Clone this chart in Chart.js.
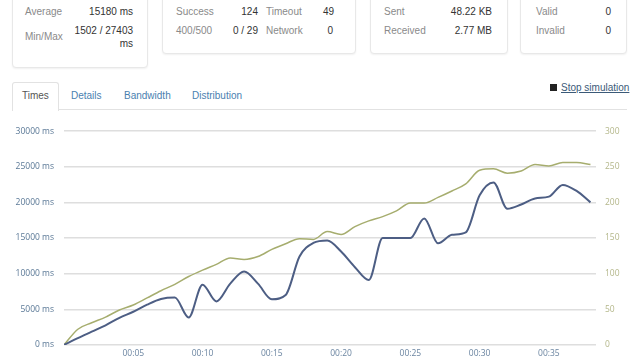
<!DOCTYPE html>
<html>
<head>
<meta charset="utf-8">
<script src="https://cdn.jsdelivr.net/npm/chart.js@4/dist/chart.umd.min.js"></script>
<style>
    body { margin: 0; width: 640px; height: 360px; overflow: hidden; background: #fff; font-family: "Liberation Sans", Arial, sans-serif; font-size: 10px; position: relative; }
    .panel { position: absolute; top: -10px; border: 1px solid #e8e8e8; border-radius: 4px; box-shadow: 0 1px 2px rgba(0,0,0,0.06); background: #fff; }
    .lbl { position: absolute; color: #8a8a8a; line-height: 12px; }
    .val { position: absolute; color: #333; line-height: 12px; text-align: right; }
    .tab { position: absolute; top: 90px; color: #4a7fb0; line-height: 12px; font-size: 10px; }
    #activeTab { position: absolute; left: 12px; top: 82px; width: 45px; height: 28px; border: 1px solid #e2e2e2; border-bottom: none; border-radius: 3px 3px 0 0; background: #fff; }
    #tabLine { position: absolute; left: 58px; top: 109px; width: 569px; height: 1px; background: #e2e2e2; }
    #stop { position: absolute; left: 550px; top: 82px; color: #444; font-size: 10px; line-height: 12px; }
    #stop span.sq { display: inline-block; width: 7px; height: 7px; background: #222; margin-right: 4px; vertical-align: 0px; }
    #stop span.t { text-decoration: underline; color: #3b5a78; }
    #chartBox { position: absolute; left: 0; top: 116px; width: 640px; height: 244px; }
</style>
</head>
<body>
<div class="panel" style="left:12px; width:134px; height:76px;"></div>
<div class="lbl" style="left:25px; top:6px;">Average</div>
<div class="val" style="left:60px; width:73px; top:6px;">15180 ms</div>
<div class="lbl" style="left:25px; top:31px;">Min/Max</div>
<div class="val" style="left:60px; width:73px; top:25px;">1502 / 27403</div>
<div class="val" style="left:60px; width:73px; top:38px;">ms</div>

<div class="panel" style="left:162px; width:192px; height:62px;"></div>
<div class="lbl" style="left:176px; top:6px;">Success</div>
<div class="val" style="left:220px; width:38px; top:6px;">124</div>
<div class="lbl" style="left:266px; top:6px;">Timeout</div>
<div class="val" style="left:300px; width:34px; top:6px;">49</div>
<div class="lbl" style="left:176px; top:25px;">400/500</div>
<div class="val" style="left:220px; width:38px; top:25px;">0 / 29</div>
<div class="lbl" style="left:266px; top:25px;">Network</div>
<div class="val" style="left:300px; width:33px; top:25px;">0</div>

<div class="panel" style="left:370px; width:136px; height:62px;"></div>
<div class="lbl" style="left:384px; top:6px;">Sent</div>
<div class="val" style="left:430px; width:62px; top:6px;">48.22 KB</div>
<div class="lbl" style="left:384px; top:25px;">Received</div>
<div class="val" style="left:430px; width:62px; top:25px;">2.77 MB</div>

<div class="panel" style="left:520px; width:105px; height:62px;"></div>
<div class="lbl" style="left:536px; top:6px;">Valid</div>
<div class="val" style="left:580px; width:31px; top:6px;">0</div>
<div class="lbl" style="left:536px; top:25px;">Invalid</div>
<div class="val" style="left:580px; width:31px; top:25px;">0</div>

<div id="tabLine"></div>
<div id="activeTab"></div>
<div class="tab" style="left:22px; color:#555;">Times</div>
<div class="tab" style="left:71px;">Details</div>
<div class="tab" style="left:124px;">Bandwidth</div>
<div class="tab" style="left:192px;">Distribution</div>
<div id="stop"><span class="sq"></span><span class="t">Stop simulation</span></div>

<div id="chartBox"><canvas id="timesChart"></canvas></div>

<script>
// elapsed time labels (one point per second)
const times = ['00:00', '00:01', '00:02', '00:03', '00:04', '00:05', '00:06', '00:07', '00:08', '00:09',
    '00:10', '00:11', '00:12', '00:13', '00:14', '00:15', '00:16', '00:17', '00:18', '00:19',
    '00:20', '00:21', '00:22', '00:23', '00:24', '00:25', '00:26', '00:27', '00:28', '00:29',
    '00:30', '00:31', '00:32', '00:33', '00:34', '00:35', '00:36', '00:37', '00:38'];

// average response time, ms (left axis)
const responseMs = [0, 950, 1850, 2750, 3800, 4650, 5650, 6450, 6650, 3850,
    8450, 6100, 8600, 10300, 8600, 6400, 7000, 12400, 14300, 14650,
    13100, 10900, 9100, 15000, 15000, 15000, 17750, 14250, 15450, 15800,
    21000, 22800, 19100, 19700, 20550, 20800, 22450, 21600, 20000];

// active users (right axis)
const users = [0, 22, 31, 39, 49, 56, 66, 76, 85, 96,
    105, 113, 122, 120, 124, 134, 142, 149, 148, 159,
    155, 166, 174, 180, 188, 199, 199, 207, 216, 226,
    245, 247, 241, 244, 253, 251, 256, 256, 253];

const msTicks = [0, 5000, 10000, 15000, 20000, 25000, 30000];
const userTicks = [0, 50, 100, 150, 200, 250, 300];

function toPoints(values) {
    return values.map((v, i) => ({ x: i, y: v }));
}

const tickFont = { family: '"Open Sans", sans-serif', size: 8.5 };

new Chart(document.getElementById('timesChart'), {
    type: 'line',
    data: {
        datasets: [
            {
                label: 'Response time',
                data: toPoints(responseMs),
                yAxisID: 'y',
                borderColor: '#4d5e84',
                borderWidth: 2,
                pointRadius: 0,
                cubicInterpolationMode: 'monotone',
                fill: false
            },
            {
                label: 'Users',
                data: toPoints(users),
                yAxisID: 'y1',
                borderColor: '#a6ad6e',
                borderWidth: 1.5,
                pointRadius: 0,
                cubicInterpolationMode: 'monotone',
                fill: false
            }
        ]
    },
    options: {
        responsive: true,
        maintainAspectRatio: false,
        animation: false,
        devicePixelRatio: 1,
        layout: { padding: { top: 15, left: 0, right: 0, bottom: 0 } },
        plugins: { legend: { display: false }, tooltip: { enabled: false } },
        scales: {
            x: {
                type: 'linear',
                min: 0,
                max: 38.4,
                grid: { display: false, drawTicks: false },
                border: { display: false },
                afterFit: (scale) => { scale.height = 15; },
                afterBuildTicks: (scale) => {
                    scale.ticks = times
                        .map((t, i) => ({ value: i, label: t }))
                        .filter(t => t.value % 5 === 0 && t.value > 0);
                },
                ticks: {
                    color: '#6b85a1',
                    font: tickFont,
                    padding: 4,
                    maxRotation: 0,
                    autoSkip: false,
                    callback: (v) => times[v]
                }
            },
            y: {
                position: 'left',
                min: 0,
                max: 30000,
                afterBuildTicks: (scale) => { scale.ticks = msTicks.map(v => ({ value: v })); },
                afterFit: (scale) => { scale.width = 64; },
                grid: { color: '#dedede', lineWidth: 1.5, drawTicks: false },
                border: { display: false },
                ticks: {
                    color: '#5a7896',
                    font: tickFont,
                    padding: 10,
                    callback: (v) => v + ' ms'
                }
            },
            y1: {
                position: 'right',
                min: 0,
                max: 300,
                afterBuildTicks: (scale) => { scale.ticks = userTicks.map(v => ({ value: v })); },
                afterFit: (scale) => { scale.width = 44; },
                grid: { display: false, drawTicks: false },
                border: { display: false },
                ticks: {
                    color: '#b4b78a',
                    font: tickFont,
                    padding: 9
                }
            }
        }
    }
});
</script>
</body>
</html>
